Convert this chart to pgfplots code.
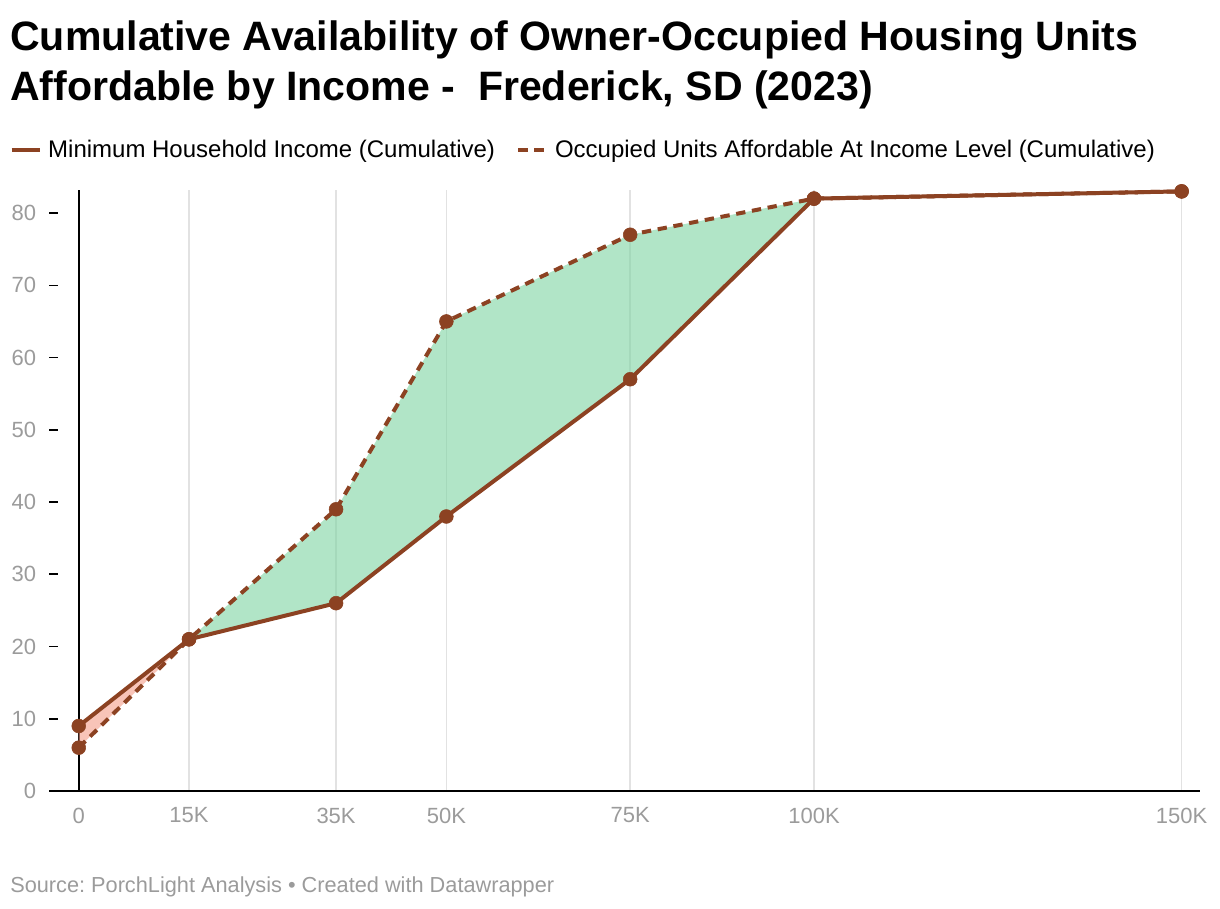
\documentclass[border=0pt]{standalone}
\usepackage{pgfplots}
\pgfplotsset{compat=1.18}
\usepackage{fontspec}
\setmainfont{Liberation Sans}

\definecolor{brownline}{RGB}{140,66,34}
\definecolor{greenfill}{RGB}{125,212,162}
\definecolor{pinkfill}{RGB}{243,157,137}
\definecolor{ticktext}{RGB}{155,155,155}
\definecolor{gridgray}{RGB}{226,226,226}

\begin{document}
\frenchspacing
\begin{tikzpicture}
\useasboundingbox (0,0) rectangle (915pt,-681pt);

% title, source
\node[anchor=base west, inner sep=0pt, font=\bfseries\fontsize{30.8}{37}\selectfont]
  at (7.5pt,-37.5pt) {Cumulative Availability of Owner-Occupied Housing Units};
\node[anchor=base west, inner sep=0pt, font=\bfseries\fontsize{30.8}{37}\selectfont]
  at (7.5pt,-75pt) {Affordable by Income -\ \ Frederick, SD (2023)};
\node[anchor=base west, inner sep=0pt, text=ticktext, font=\fontsize{16.3}{19}\selectfont]
  at (7.5pt,-669pt) {Source: PorchLight Analysis • Created with Datawrapper};

\begin{axis}[
  at={(37pt,-593.25pt)}, anchor=south west,
  scale only axis, width=863pt, height=450.8pt,
  xmin=-4, xmax=152.5, ymin=0, ymax=83.2,
  axis x line*=bottom, axis y line*=left,
  x axis line style={-, black, line width=1.5pt},
  y axis line style={draw=none},
  xtick={0,15,35,50,75,100,150},
  xticklabels={0,15K,35K,50K,75K,100K,150K},
  ytick={0,10,...,80},
  tick align=inside,
  major tick length=6.75pt,
  xtick style={draw=none},
  ytick style={black, line width=1.2pt},
  xmajorgrids, major grid style={gridgray, line width=1.2pt},
  extra x ticks={0}, extra x tick labels={},
  extra x tick style={grid=major, major grid style={black, line width=1.5pt}},
  tick label style={text=ticktext, font=\fontsize{16.5}{19}\selectfont},
  /pgf/number format/assume math mode=true,
  xticklabel style={yshift=-9pt},
  yticklabel style={anchor=east, inner sep=0pt, xshift=-9.75pt},
  clip=false,
  legend style={at={(-0.0383,1.0666)}, anchor=west, draw=none, fill=none,
    legend columns=2, font=\fontsize{18}{21}\selectfont,
    /tikz/every odd column/.append style={column sep=3pt},
    /tikz/every even column/.append style={column sep=14pt}},
  legend cell align=left,
  legend image code/.code={\draw[#1] (0pt,0pt) -- (21pt,0pt);},
]
% gap areas between the two curves
\addplot[fill=pinkfill, fill opacity=0.6, draw=none, forget plot]
  coordinates {(0,9) (15,21) (0,6)} -- cycle;
\addplot[fill=greenfill, fill opacity=0.6, draw=none, forget plot]
  coordinates {(15,21) (35,39) (50,65) (75,77) (100,82) (75,57) (50,38) (35,26)} -- cycle;

\addplot[brownline, line width=3pt, line join=round]
  coordinates {(0,9) (15,21) (35,26) (50,38) (75,57) (100,82) (150,83)};
\addlegendentry{Minimum Household Income (Cumulative)}
\addplot[brownline, line width=3pt, dash pattern=on 7pt off 5pt]
  coordinates {(0,6) (15,21) (35,39) (50,65) (75,77) (100,82) (150,83)};
\addlegendentry{Occupied Units Affordable At Income Level (Cumulative)}

\addplot[only marks, brownline, mark=*, mark size=5.2pt, forget plot]
  coordinates {(0,9) (15,21) (35,26) (50,38) (75,57) (100,82) (150,83)};
\addplot[only marks, brownline, mark=*, mark size=5.2pt, forget plot]
  coordinates {(0,6) (15,21) (35,39) (50,65) (75,77) (100,82) (150,83)};
\end{axis}
\end{tikzpicture}
\end{document}
